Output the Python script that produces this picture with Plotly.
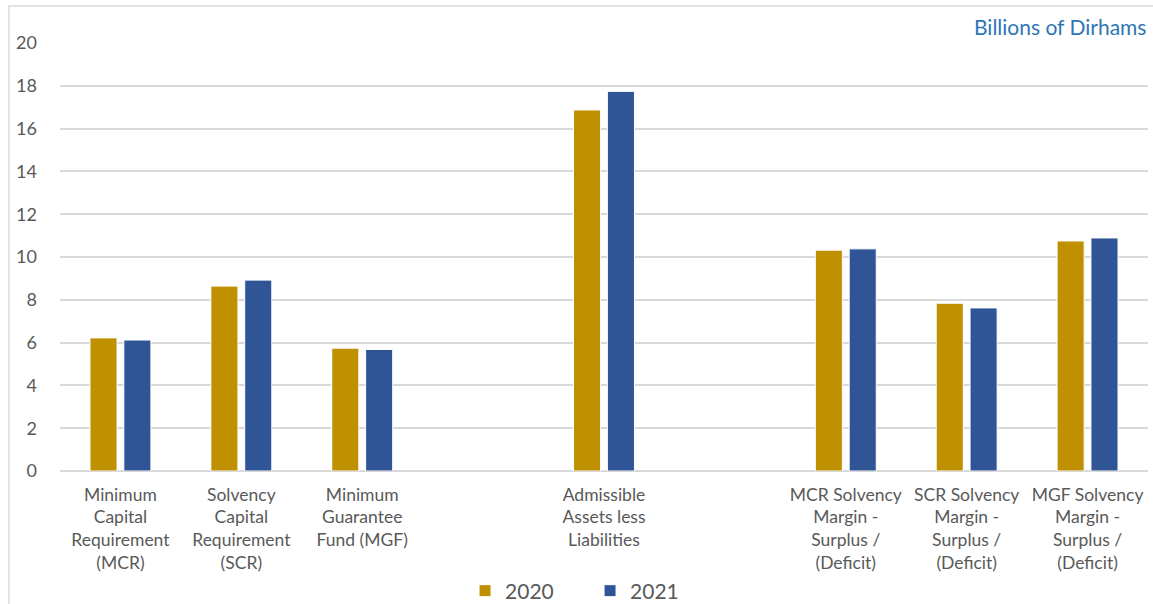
import plotly.graph_objects as go

# categories (two empty slots keep the wide spacing around the middle bar)
categories = ["MCR", "SCR", "MGF", "gap1", "AAL", "gap2", "MCR_M", "SCR_M", "MGF_M"]
tick_text = [
    "Minimum<br>Capital<br>Requirement<br>(MCR)",
    "Solvency<br>Capital<br>Requirement<br>(SCR)",
    "Minimum<br>Guarantee<br>Fund (MGF)",
    "",
    "Admissible<br>Assets less<br>Liabilities",
    "",
    "MCR Solvency<br>Margin -<br>Surplus /<br>(Deficit)",
    "SCR Solvency<br>Margin -<br>Surplus /<br>(Deficit)",
    "MGF Solvency<br>Margin -<br>Surplus /<br>(Deficit)",
]
values_2020 = [6.22, 8.64, 5.74, None, 16.87, None, 10.32, 7.84, 10.75]
values_2021 = [6.12, 8.92, 5.68, None, 17.74, None, 10.38, 7.62, 10.89]

font = "Lato, 'Open Sans', sans-serif"
grey = "#595959"

fig = go.Figure()
fig.add_trace(go.Bar(x=categories, y=values_2020, name="2020",
                     marker=dict(color="#BF9000", line=dict(color="white", width=1))))
fig.add_trace(go.Bar(x=categories, y=values_2021, name="2021",
                     marker=dict(color="#2F5597", line=dict(color="white", width=1))))

fig.update_layout(
    width=1153, height=604,
    margin=dict(l=60, r=5, t=43, b=133, autoexpand=False),
    plot_bgcolor="white", paper_bgcolor="white",
    barmode="group", bargap=0.44, bargroupgap=0.2,
    font=dict(family=font, color=grey, size=17),
    showlegend=True,
    legend=dict(orientation="h", x=0.3723, xanchor="left",
                y=0.0215, yref="container", yanchor="middle",
                font=dict(size=21, color=grey), entrywidth=80, entrywidthmode="pixels"),
)

fig.update_xaxes(tickmode="array", tickvals=categories, ticktext=tick_text,
                 ticks="", showgrid=False, showline=False, automargin=False,
                 tickfont=dict(size=17.5, color=grey), ticklabelstandoff=11)
fig.update_yaxes(range=[0, 20], dtick=2, showgrid=True, gridcolor="#d9d9d9", gridwidth=1.7,
                 zeroline=True, zerolinecolor="#d9d9d9", zerolinewidth=1.7,
                 showline=False, ticks="", tickfont=dict(size=18, color=grey),
                 ticklabelstandoff=22, automargin=False)

# unit note, top right
fig.add_annotation(text="Billions of Dirhams", xref="paper", yref="paper",
                   x=1, y=1.038, xanchor="right", yanchor="middle", showarrow=False,
                   font=dict(size=21, color="#2E75B6", family=font))

# chart frame
fig.add_shape(type="rect", xref="paper", yref="paper",
              x0=-0.0469, x1=1.02, y0=-0.5, y1=1.0864,
              line=dict(color="#d9d9d9", width=1.5), layer="below")

fig.write_html("out.html", config={"displayModeBar": False},
               post_script="document.body.style.margin='0';document.body.style.overflow='hidden';")
